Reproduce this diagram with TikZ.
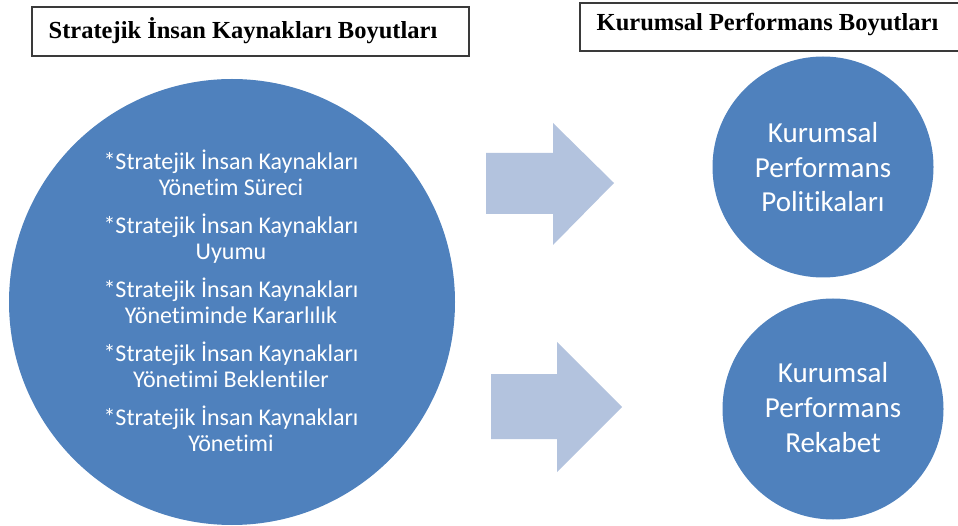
\documentclass[tikz,border=0pt]{standalone}
\usepackage{fontspec}
\setmainfont{Liberation Serif}
\newfontfamily\carlito[Ligatures=NoCommon]{Carlito}
\definecolor{circblue}{HTML}{4F81BD}
\definecolor{arrowblue}{HTML}{B3C3DE}
\definecolor{boxline}{HTML}{3A3A3A}
\tikzset{
  titletext/.style={font=\bfseries\fontsize{24.5}{28}\selectfont, text=black, inner sep=0pt},
  bigcirc/.style={circle, fill=circblue, draw=none, inner sep=0pt, minimum size=446pt},
  smallcirc/.style={circle, fill=circblue, draw=none, inner sep=0pt, minimum size=221pt},
  circtext/.style={text=white, align=center, inner sep=0pt},
  blockarrow/.style={fill=arrowblue, draw=none},
  boxframe/.style={draw=boxline, line width=1.3pt}
}
\begin{document}
\begin{tikzpicture}[x=1pt, y=-1pt]
\useasboundingbox (0,0) rectangle (958,526);
\clip (0,0) rectangle (958,526);
% title boxes
\draw[boxframe] (32,7) rectangle (469,56);
\node[titletext] (ltitle) at (243,31) {Stratejik İnsan Kaynakları Boyutları};
\draw[boxframe] (580,3) rectangle (966,51);
\node[titletext] (rtitle) at (767.5,25) {Kurumsal Performans Boyutları};
% big circle
\node[bigcirc] (big) at (232,302) {};
\node[circtext, font=\carlito\fontsize{24}{26}\selectfont] (bigtext) at (231,301) {%
*Stratejik İnsan Kaynakları\\ Yönetim Süreci\\[12pt]
*Stratejik İnsan Kaynakları\\ Uyumu\\[12pt]
*Stratejik İnsan Kaynakları\\ Yönetiminde Kararlılık\\[12pt]
*Stratejik İnsan Kaynakları\\ Yönetimi Beklentiler\\[12pt]
*Stratejik İnsan Kaynakları\\ Yönetimi};
% arrows
\fill[blockarrow] (486,153) -- (553,153) -- (553,123) -- (614,183) -- (553,245) -- (553,214) -- (486,214) -- cycle;
\fill[blockarrow] (491,374) -- (557,374) -- (557,342) -- (622,407) -- (557,472) -- (557,439) -- (491,439) -- cycle;
% small circles
\node[smallcirc] (c1) at (823,167) {};
\node[circtext, font=\carlito\fontsize{29}{34.5}\selectfont] (t1) at (823,167.5) {Kurumsal\\ Performans\\ Politikaları};
\node[smallcirc] (c2) at (833,409) {};
\node[circtext, font=\carlito\fontsize{29}{35}\selectfont] (t2) at (833,408) {Kurumsal\\ Performans\\ Rekabet};
\end{tikzpicture}
\end{document}
